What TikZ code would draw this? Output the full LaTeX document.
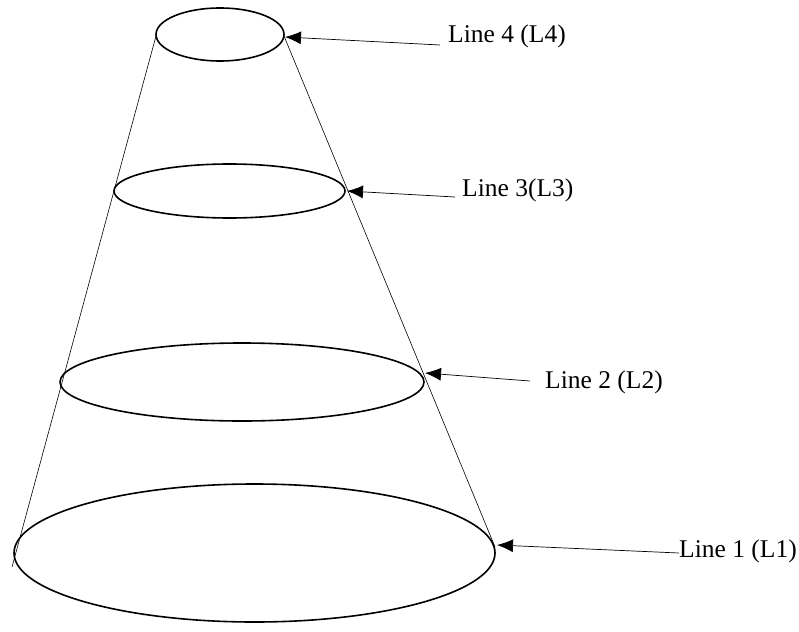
\documentclass[tikz,border=0pt]{standalone}
\usepackage{fontspec}
\setmainfont{Liberation Serif}
\usetikzlibrary{shapes.geometric,arrows.meta}
\begin{document}
\begin{tikzpicture}[x=1pt,y=-1pt,
  ring/.style={ellipse,draw,line width=1.6pt,inner sep=0pt,outer sep=0pt},
  side/.style={line width=0.6pt},
  pointer/.style={line width=0.7pt,-{Latex[length=16pt,width=13pt]}},
  tag/.style={anchor=base west,inner sep=0pt,font=\fontsize{25.5pt}{28pt}\selectfont}]
\useasboundingbox (0,0) rectangle (799,631);

% the four rings of the cone, bottom to top
\node[ring,minimum width=481pt,minimum height=138pt] (e1) at (254.5,553) {};
\node[ring,minimum width=364pt,minimum height=78pt]  (e2) at (242,382) {};
\node[ring,minimum width=231pt,minimum height=54pt]  (e3) at (229.5,191) {};
\node[ring,minimum width=128pt,minimum height=53pt]  (e4) at (220,34.5) {};

% slanted sides
\coordinate (lt) at (156,36);
\coordinate (lb) at (12,567);
\coordinate (rt) at (284,36);
\coordinate (rb) at (495,547);
\draw[side] (lt) -- (lb);
\draw[side] (rt) -- (rb);

% labels
\node[tag] (l4) at (448,43)  {Line 4 (L4)};
\node[tag] (l3) at (462,196) {Line 3(L3)};
\node[tag] (l2) at (545,388) {Line 2 (L2)};
\node[tag] (l1) at (679,557) {Line 1 (L1)};

% leader ends
\coordinate (s4) at (440,45);  \coordinate (p4) at (285,37);
\coordinate (s3) at (455,197); \coordinate (p3) at (347,191);
\coordinate (s2) at (530,381); \coordinate (p2) at (425,373);
\coordinate (s1) at (679,553); \coordinate (p1) at (497,545);

\draw[pointer] (s4) -- (p4);
\draw[pointer] (s3) -- (p3);
\draw[pointer] (s2) -- (p2);
\draw[pointer] (s1) -- (p1);
\end{tikzpicture}
\end{document}
